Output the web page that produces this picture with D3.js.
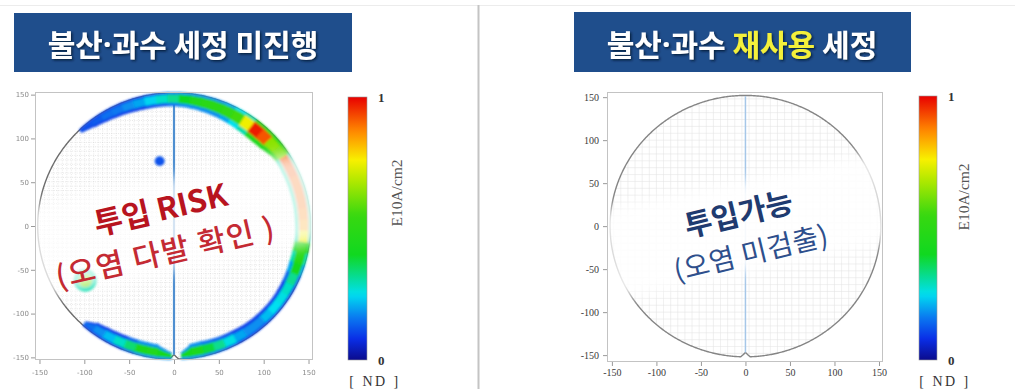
<!DOCTYPE html>
<html>
<head>
<meta charset="utf-8">
<script src="https://cdn.jsdelivr.net/npm/d3@7"></script>
<style>
  html, body { margin: 0; padding: 0; background: #fff; }
  svg { display: block; }
</style>
</head>
<body>
<svg id="chart" width="1015" height="389"></svg>
<script>
// ---------- data ----------
const axisTicks = [-150, -100, -50, 0, 50, 100, 150];   // mm
const colorTicks = [0, 1];                              // E10 A/cm2 (normalised)
const levelStops  = [0, 0.08, 0.16, 0.25, 0.4, 0.55, 0.68, 0.76, 0.87, 1];
const levelColors = ["#0b0b8c", "#0a2ee6", "#0a78f0", "#00e0f0", "#10d820",
                     "#38d810", "#b0e800", "#f8f000", "#ff8800", "#e80000"];

// banner titles: [before dot, dot, after dot] — the right one is split further for the highlight
const titleLeft  = ["불산", "·", "과수 세정 미진행"];
const titleRight = ["불산", "·", "과수 ", "재사용", " 세정"];
const verdictLeft  = ["투입 RISK", "(오염 다발 확인 )"];
const verdictRight = ["투입가능", "(오염 미검출)"];
const unitLabel = "E10A/cm2";
const ndLabel = "[ ND ]";

// edge contamination of the unwashed wafer: 5° bins (centre angle, deg, CCW from +x)
const bandAngle = [130, 125, 120, 115, 110, 105, 100, 95, 90, 85, 80, 75, 70, 65, 60, 55, 50, 45, 40, 35,
                   30, 25, 20, 15, 10, 5, 0, -5,
                   -10, -15, -20, -25, -30, -35, -40, -45, -50, -55, -60, -65, -70, -75, -80, -85,
                   -95, -100, -105, -110, -115, -120, -125, -130];
const bandWidth = [8, 10, 12, 13, 14, 15, 15, 15, 15, 16, 17, 18, 19, 20, 21, 22, 22, 22, 20, 16,
                   17, 17, 17, 17, 17, 17, 17, 16,
                   17, 17, 17, 16, 16, 15, 15, 15, 15, 15, 16, 16, 16, 17, 17, 15,
                   15, 16, 16, 16, 16, 15, 14, 11];
const bandEdge  = [.1, .1, .1, .1, .1, .1, .12, .13, .16, .18, .18, .18, .18, .2, .25, .3, .45, .45, .45, .5,
                   .3, .3, .3, .3, .3, .3, .3, .3,
                   .4, .3, .2, .14, .1, .1, .1, .1, .1, .1, .1, .12, .14, .16, .18, .18,
                   .18, .18, .18, .14, .1, .1, .1, .1];
const bandCore  = [.12, .13, .15, .16, .18, .2, .24, .28, .32, .4, .46, .5, .5, .52, .56, .75, .97, .92, .64, .62,
                   .92, .92, .9, .9, .9, .88, .85, .75,
                   .52, .5, .42, .32, .28, .26, .25, .22, .18, .18, .2, .26, .32, .38, .44, .42,
                   .42, .46, .44, .34, .28, .22, .18, .15];

// isolated particles on the unwashed wafer (mm)
const spotX    = [-16, -99];
const spotY    = [74, -62];
const spotR    = [5.5, 13];
const spotEdge = [0.12, 0.3];
const spotCore = [0.12, 0.62];

// ---------- setup ----------
const W = 1015, H = 389;
const WAFER_R = 152;
const svg = d3.select("#chart");
const defs = svg.append("defs");

const levelColor = d3.scaleLinear().domain(levelStops).range(levelColors).clamp(true);

defs.append("filter").attr("id", "soft").attr("x", "-10%").attr("y", "-10%")
  .attr("width", "120%").attr("height", "120%")
  .append("feGaussianBlur").attr("stdDeviation", 0.8);
defs.append("filter").attr("id", "haze")
  .append("feGaussianBlur").attr("stdDeviation", 0.45);
defs.append("filter").attr("id", "feather").attr("x", "-20%").attr("y", "-40%")
  .attr("width", "140%").attr("height", "180%")
  .append("feGaussianBlur").attr("stdDeviation", 7);
const sh = defs.append("filter").attr("id", "shadow").attr("x", "-5%").attr("y", "-20%")
  .attr("width", "110%").attr("height", "140%");
sh.append("feDropShadow").attr("dx", 1.4).attr("dy", 1.4).attr("stdDeviation", 0.8)
  .attr("flood-color", "#06162f").attr("flood-opacity", 0.85);

const grad = defs.append("linearGradient").attr("id", "jet")
  .attr("x1", 0).attr("y1", 1).attr("x2", 0).attr("y2", 0);
d3.range(0, 1.0001, 0.02).forEach(t => {
  grad.append("stop").attr("offset", t).attr("stop-color", levelColor(t));
});

// page furniture
svg.append("line").attr("x1", 0).attr("x2", W).attr("y1", 5.5).attr("y2", 5.5)
  .attr("stroke", "#ececec").attr("stroke-width", 1);
svg.append("line").attr("x1", 478.5).attr("x2", 478.5).attr("y1", 5).attr("y2", H)
  .attr("stroke", "#c4c4c4").attr("stroke-width", 2);

const panels = [
  {
    id: "a", title: titleLeft, highlight: -1,
    box: { x: 14, y: 13, w: 338, h: 59 }, titleX: 183, titleY: 43,
    frame: { x0: 35, y0: 92, x1: 313, y1: 360 }, xDom: [-155, 155], yDom: [-153, 153],
    bar: { x: 348, y: 97, w: 19, h: 263 }, unitX: 396, unitY: 193, ndX: 375,
    tickFont: "'DejaVu Sans', sans-serif", tickSize: 7, tickFill: "#8a8a8a", tickHaze: true,
    yPad: 2, xPad: 6, grid: 5, gridDash: "0.9,1.4", gridColor: "#d2d2d2", gridWidth: 0.6,
    axisLine: { color: "#4f8fd0", width: 2.2 }, outline: "#6d6d6d",
    verdict: verdictLeft, vColors: ["#b8141f", "#c42a33"], vWeights: [700, 500],
    vSizes: [31, 30], vSpacing: [0, 1.6], vCenter: [163, 228], vAngle: -13,
    vLines: [[2, -21], [-3, 22]],
    cover: { cx: 173, cy: 224, w: 300, h: 92, angle: -11.5, opacity: 0.76 },
    contamination: true
  },
  {
    id: "b", title: titleRight, highlight: 3,
    box: { x: 574, y: 12, w: 337, h: 60 }, titleX: 742, titleY: 43,
    frame: { x0: 607, y0: 92, x1: 883, y1: 362 }, xDom: [-155.5, 154.5], yDom: [-158, 156],
    bar: { x: 919, y: 96, w: 18, h: 264 }, unitX: 963, unitY: 197, ndX: 945,
    tickFont: "'Liberation Serif', 'DejaVu Serif', serif", tickSize: 10, tickFill: "#3a3a3a", tickHaze: false,
    yPad: 4, xPad: 3, grid: 8, gridDash: null, gridColor: "#e3e3e3", gridWidth: 0.55,
    axisLine: { color: "#a6c7e8", width: 1.5 }, outline: "#858585",
    verdict: verdictRight, vColors: ["#1f3b70", "#2e4f8c"], vWeights: [700, 400],
    vSizes: [30, 28], vSpacing: [0, 0.5], vCenter: [744, 232], vAngle: -13.5,
    vLines: [[-1, -21], [2, 20]],
    cover: { cx: 745, cy: 226, w: 280, h: 88, angle: -12, opacity: 0.9 },
    contamination: false
  }
];

// wafer outline (with the orientation notch at the bottom), sampled in mm
function waferOutline(R) {
  return d3.range(0, 360.01, 0.5).map(a => {
    const d = Math.abs(a - 270);
    const r = d < 2 ? R - 5 * (1 - d / 2) : R;
    const t = a * Math.PI / 180;
    return [r * Math.cos(t), r * Math.sin(t)];
  });
}

function ringPath(x, y, a0, a1, rIn0, rIn1, rOut) {
  const n = Math.max(2, Math.ceil((a1 - a0) / 0.5));
  const pts = [];
  for (let i = 0; i <= n; i++) {
    const a = a0 + (a1 - a0) * i / n, t = a * Math.PI / 180;
    pts.push([x(rOut * Math.cos(t)), y(rOut * Math.sin(t))]);
  }
  for (let i = n; i >= 0; i--) {
    const a = a0 + (a1 - a0) * i / n, t = a * Math.PI / 180;
    const r = rIn0 + (rIn1 - rIn0) * i / n;
    pts.push([x(r * Math.cos(t)), y(r * Math.sin(t))]);
  }
  return "M" + pts.map(p => p[0].toFixed(2) + "," + p[1].toFixed(2)).join("L") + "Z";
}

panels.forEach(p => {
  const g = svg.append("g").attr("class", "panel-" + p.id);
  const f = p.frame;
  const x = d3.scaleLinear().domain(p.xDom).range([f.x0, f.x1]);
  const y = d3.scaleLinear().domain(p.yDom).range([f.y1, f.y0]);
  const line = d3.line().x(d => x(d[0])).y(d => y(d[1]));

  // ----- title banner -----
  g.append("rect").attr("x", p.box.x).attr("y", p.box.y).attr("width", p.box.w).attr("height", p.box.h)
    .attr("fill", "#1f4e8c");
  const tt = g.append("text").attr("x", p.titleX).attr("y", p.titleY)
    .attr("text-anchor", "middle").attr("dominant-baseline", "central")
    .attr("font-family", "'Noto Sans CJK KR', sans-serif").attr("font-weight", 700)
    .attr("font-size", 30).attr("filter", "url(#shadow)")
    .attr("xml:space", "preserve");
  p.title.forEach((s, i) => {
    const ts = tt.append("tspan").text(s).attr("fill", i === p.highlight ? "#f4f03a" : "#ffffff");
    if (i === 1) ts.attr("font-family", "'Noto Sans', sans-serif");
  });

  // ----- wafer map -----
  const outlinePts = waferOutline(WAFER_R);
  defs.append("clipPath").attr("id", "wafer-" + p.id)
    .append("path").attr("d", line(outlinePts) + "Z");
  defs.append("clipPath").attr("id", "frame-" + p.id)
    .append("rect").attr("x", f.x0).attr("y", f.y0).attr("width", f.x1 - f.x0).attr("height", f.y1 - f.y0);

  // die grid
  const gridG = g.append("g").attr("clip-path", `url(#wafer-${p.id})`);
  const gv = d3.range(-WAFER_R + p.grid / 2, WAFER_R, p.grid);
  gridG.selectAll("line.v").data(gv).join("line").attr("class", "v")
    .attr("x1", d => x(d)).attr("x2", d => x(d)).attr("y1", y(-WAFER_R)).attr("y2", y(WAFER_R));
  gridG.selectAll("line.h").data(gv).join("line").attr("class", "h")
    .attr("y1", d => y(d)).attr("y2", d => y(d)).attr("x1", x(-WAFER_R)).attr("x2", x(WAFER_R));
  gridG.selectAll("line").attr("stroke", p.gridColor).attr("stroke-width", p.gridWidth)
    .attr("stroke-dasharray", p.gridDash);

  // wafer edge
  g.append("path").attr("d", line(outlinePts) + "Z").attr("fill", "none")
    .attr("stroke", p.outline).attr("stroke-width", 1.4);

  // centre scan line
  g.append("line").attr("x1", x(0)).attr("x2", x(0)).attr("y1", y(WAFER_R - 1)).attr("y2", y(-WAFER_R + 5))
    .attr("stroke", p.axisLine.color).attr("stroke-width", p.axisLine.width);

  // contamination map
  if (p.contamination) {
    const cg = g.append("g").attr("filter", "url(#soft)");
    const idx = new Map(bandAngle.map((a, i) => [a, i]));
    const fringe = [], core = [];
    bandAngle.forEach((a, i) => {
      const w = bandWidth[i];
      const up = idx.get(a + 5), dn = idx.get(a - 5);
      const wHi = up !== undefined ? (w + bandWidth[up]) / 2 : w * 0.5;
      const wLo = dn !== undefined ? (w + bandWidth[dn]) / 2 : w * 0.5;
      const a0 = a - 2.5 - (dn !== undefined ? 0.4 : -0.5);
      const a1 = a + 2.5 + (up !== undefined ? 0.4 : 1.5);
      fringe.push({ d: ringPath(x, y, a0, a1, WAFER_R - wLo, WAFER_R - wHi, WAFER_R + 0.8), v: bandEdge[i] });
      core.push({ d: ringPath(x, y, a0, a1, WAFER_R - 0.75 * wLo, WAFER_R - 0.75 * wHi, WAFER_R - 0.12 * w), v: bandCore[i] });
    });
    cg.selectAll("path.fringe").data(fringe).join("path").attr("class", "fringe")
      .attr("d", d => d.d).attr("fill", d => levelColor(d.v));
    cg.selectAll("path.core").data(core).join("path").attr("class", "core")
      .attr("d", d => d.d).attr("fill", d => levelColor(d.v));

    const spots = spotX.map((sx, i) => ({ sx, sy: spotY[i], r: spotR[i], e: spotEdge[i], c: spotCore[i] }));
    cg.selectAll("ellipse.edge").data(spots).join("ellipse").attr("class", "edge")
      .attr("cx", d => x(d.sx)).attr("cy", d => y(d.sy))
      .attr("rx", d => x(d.r) - x(0)).attr("ry", d => y(0) - y(d.r))
      .attr("fill", d => levelColor(d.e));
    cg.selectAll("ellipse.core").data(spots).join("ellipse").attr("class", "core")
      .attr("cx", d => x(d.sx)).attr("cy", d => y(d.sy))
      .attr("rx", d => (x(d.r) - x(0)) * 0.6).attr("ry", d => (y(0) - y(d.r)) * 0.6)
      .attr("fill", d => levelColor(d.c));
  }

  // translucent, feathered label plate
  const c = p.cover;
  g.append("g").attr("clip-path", `url(#frame-${p.id})`)
    .append("rect").attr("x", -c.w / 2).attr("y", -c.h / 2).attr("width", c.w).attr("height", c.h)
    .attr("transform", `translate(${c.cx},${c.cy}) rotate(${c.angle})`)
    .attr("fill", "#fff").attr("opacity", c.opacity).attr("filter", "url(#feather)");

  // plot frame
  g.append("rect").attr("x", f.x0 + 0.5).attr("y", f.y0 + 0.5)
    .attr("width", f.x1 - f.x0 - 1).attr("height", f.y1 - f.y0 - 1)
    .attr("fill", "none").attr("stroke", "#c3c3c3").attr("stroke-width", 1);

  // axes
  const fmt = d => String(d);
  const ax = g.append("g").attr("transform", `translate(0,${f.y1})`)
    .call(d3.axisBottom(x).tickValues(axisTicks).tickSize(4).tickPadding(p.xPad).tickFormat(fmt));
  const ay = g.append("g").attr("transform", `translate(${f.x0},0)`)
    .call(d3.axisLeft(y).tickValues(axisTicks).tickSize(4).tickPadding(p.yPad).tickFormat(fmt));
  [ax, ay].forEach(a => {
    a.select(".domain").remove();
    a.selectAll(".tick line").attr("stroke", "#9a9a9a");
    a.selectAll(".tick text").attr("font-family", p.tickFont).attr("font-size", p.tickSize)
      .attr("fill", p.tickFill).attr("filter", p.tickHaze ? "url(#haze)" : null);
  });

  // verdict text
  const vg = g.append("g").attr("transform", `translate(${p.vCenter[0]},${p.vCenter[1]}) rotate(${p.vAngle})`);
  p.verdict.forEach((s, i) => {
    vg.append("text").attr("x", p.vLines[i][0]).attr("y", p.vLines[i][1])
      .attr("text-anchor", "middle").attr("dominant-baseline", "central")
      .attr("font-family", "'Noto Sans CJK KR', sans-serif")
      .attr("font-weight", p.vWeights[i]).attr("font-size", p.vSizes[i])
      .attr("letter-spacing", p.vSpacing[i])
      .attr("fill", p.vColors[i]).attr("xml:space", "preserve").text(s);
  });

  // ----- colour bar -----
  const b = p.bar;
  const cs = d3.scaleLinear().domain([0, 1]).range([b.y + b.h, b.y]);
  g.append("rect").attr("x", b.x).attr("y", b.y).attr("width", b.w).attr("height", b.h)
    .attr("fill", "url(#jet)").attr("stroke", "#9a9a9a").attr("stroke-width", 0.6);
  const cax = g.append("g").attr("transform", `translate(${b.x + b.w},0)`)
    .call(d3.axisRight(cs).tickValues(colorTicks).tickSize(0).tickPadding(11).tickFormat(d3.format("d")));
  cax.select(".domain").remove();
  cax.selectAll(".tick text").attr("font-family", "'Liberation Serif', serif").attr("font-size", 13)
    .attr("font-weight", 700).attr("fill", "#333");
  g.append("text").attr("transform", `translate(${p.unitX},${p.unitY}) rotate(-90)`)
    .attr("text-anchor", "middle").attr("dominant-baseline", "central")
    .attr("font-family", "'Liberation Serif', serif").attr("font-size", 15.5)
    .attr("fill", "#555").text(unitLabel);
  g.append("text").attr("x", p.ndX).attr("y", 381)
    .attr("text-anchor", "middle").attr("dominant-baseline", "central")
    .attr("font-family", "'Liberation Serif', serif").attr("font-size", 14)
    .attr("letter-spacing", 2.5).attr("xml:space", "preserve")
    .attr("fill", "#333").text(ndLabel);
});
</script>
</body>
</html>
